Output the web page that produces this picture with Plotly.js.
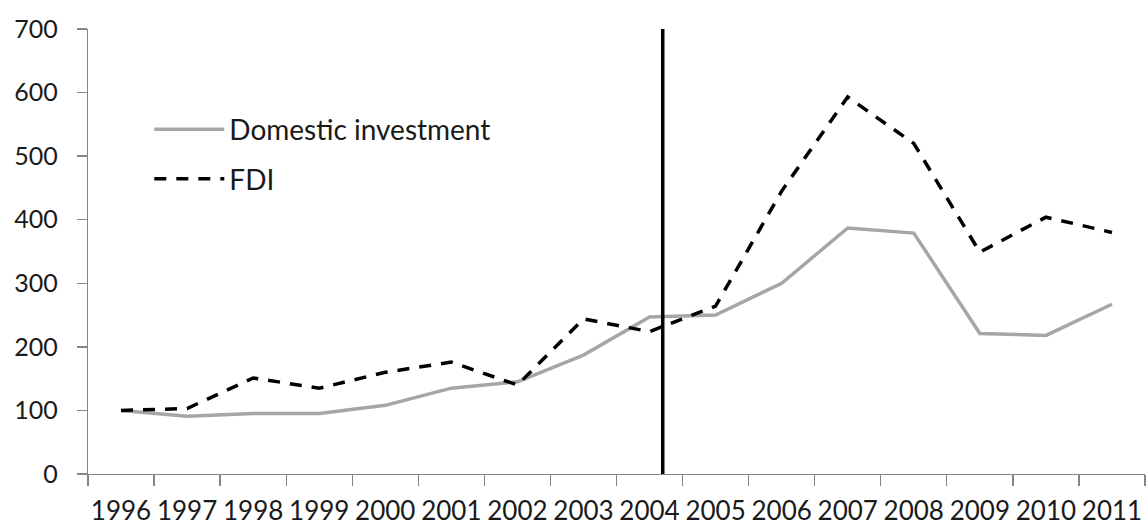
<!DOCTYPE html>
<html>
<head>
<meta charset="utf-8">
<script src="https://cdn.plot.ly/plotly-3.0.1.min.js"></script>
<style>html,body{margin:0;padding:0;background:#fff;}#chart{width:1147px;height:529px;}</style>
</head>
<body>
<div id="chart"></div>
<script>
const years = ["1996","1997","1998","1999","2000","2001","2002","2003","2004","2005","2006","2007","2008","2009","2010","2011"];
const domesticInvestment = [100, 91, 95, 95, 108, 135, 145, 187, 247, 250, 300, 387, 379, 221, 218, 267];
const fdi = [100, 103, 151, 135, 160, 176, 140, 244, 224, 264, 445, 593, 520, 349, 404, 380];
const yTicks = [0, 100, 200, 300, 400, 500, 600, 700];
const breakPosition = 8.2; // between 2004 and 2005 (category index)

const font = "Lato, 'Open Sans', sans-serif";
const traces = [
  {x: years, y: domesticInvestment, type: "scatter", mode: "lines", name: "Domestic investment",
   legendgroup: "a", line: {color: "#a6a6a6", width: 3.5}},
  {x: years, y: fdi, type: "scatter", mode: "lines", name: "FDI",
   legendgroup: "b", line: {color: "#000000", width: 3.5, dash: "12px,10px"}}
];
const layout = {
  width: 1147, height: 529,
  margin: {l: 88, r: 2, t: 29, b: 55},
  paper_bgcolor: "#ffffff", plot_bgcolor: "#ffffff",
  font: {family: font, size: 25, color: "#1a1a1a"},
  showlegend: true,
  legend: {x: 0.058, y: 0.83, xanchor: "left", yanchor: "top", bgcolor: "rgba(0,0,0,0)",
    itemwidth: 70, tracegroupgap: 10, traceorder: "grouped", font: {family: font, size: 28, color: "#1a1a1a"}},
  xaxis: {type: "category", range: [-0.5, 15.5], tickson: "boundaries", ticks: "outside", ticklen: 11,
    tickangle: 0, tickfont: {size: 26},
    tickcolor: "#868686", tickwidth: 1.3, showline: true, linecolor: "#868686", linewidth: 1.3,
    showgrid: false, zeroline: false, ticklabelstandoff: 13, fixedrange: true},
  yaxis: {range: [0, 700], tickvals: yTicks, ticks: "outside", ticklen: 10, tickcolor: "#868686", tickwidth: 1.3,
    showline: true, linecolor: "#868686", linewidth: 1.3, showgrid: false, zeroline: false,
    ticklabelstandoff: 14, fixedrange: true},
  shapes: [{type: "line", xref: "x", yref: "y", x0: breakPosition, x1: breakPosition, y0: 0, y1: 700,
    line: {color: "#000000", width: 3.5}}]
};
Plotly.newPlot("chart", traces, layout, {displayModeBar: false, staticPlot: true});
</script>
</body>
</html>
